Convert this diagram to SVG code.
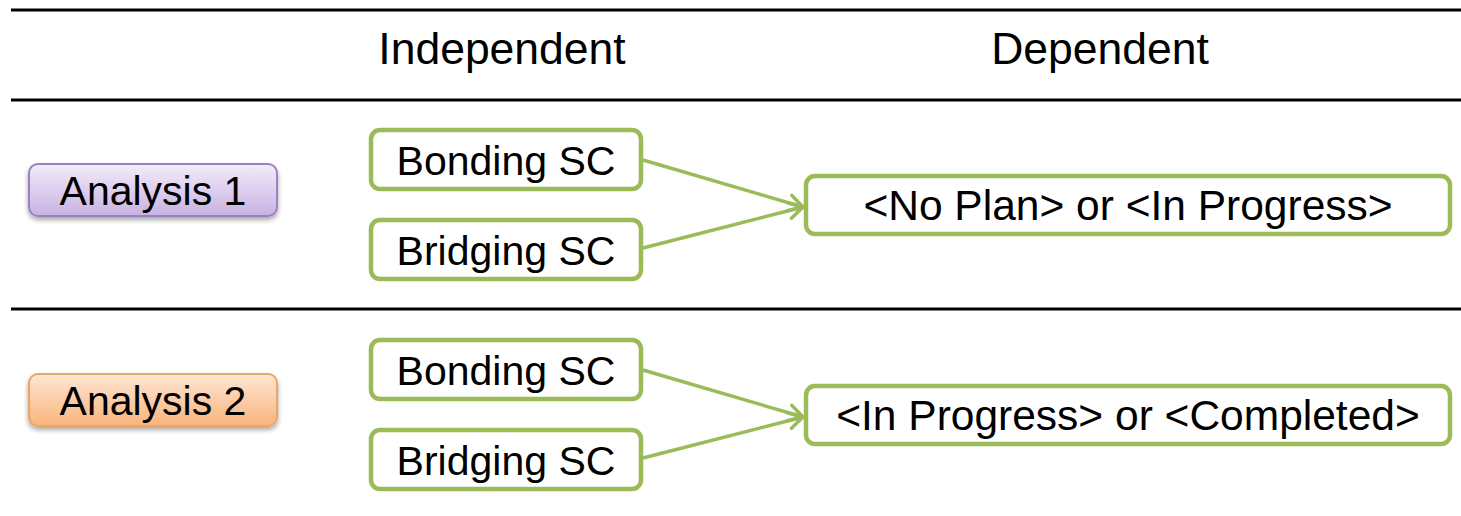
<svg xmlns="http://www.w3.org/2000/svg" width="1461" height="516" viewBox="0 0 1461 516">
<style>
text{font-family:"Liberation Sans",Arial,sans-serif;fill:#000;text-anchor:middle}
.hdr{font-size:44.5px}
.t{font-size:41px}
.td{font-size:42.5px}
.rule{stroke:#000;stroke-width:3}
.gbox{fill:#fff;stroke:#9bbb59;stroke-width:4.5}
.conn{stroke:#9bbb59;stroke-width:3.5;fill:none;marker-end:url(#arr)}
</style>
<defs>
<marker id="arr" viewBox="0 0 20 20" refX="18" refY="10" markerWidth="20" markerHeight="20" markerUnits="userSpaceOnUse" orient="auto">
<path d="M4,2 L18,10 L4,18" fill="none" stroke="#9bbb59" stroke-width="3.5" stroke-linecap="round" stroke-linejoin="round"/>
</marker>
<linearGradient id="purp" x1="0" y1="0" x2="0" y2="1">
<stop offset="0" stop-color="#f3ecfa"/><stop offset="1" stop-color="#c8b2e2"/>
</linearGradient>
<linearGradient id="orng" x1="0" y1="0" x2="0" y2="1">
<stop offset="0" stop-color="#fee6d4"/><stop offset="1" stop-color="#f9b47c"/>
</linearGradient>
<filter id="sh" x="-10%" y="-20%" width="120%" height="160%">
<feGaussianBlur in="SourceAlpha" stdDeviation="2.5"/>
<feOffset dy="3" result="b"/>
<feComponentTransfer><feFuncA type="linear" slope="0.35"/></feComponentTransfer>
<feMerge><feMergeNode/><feMergeNode in="SourceGraphic"/></feMerge>
</filter>
</defs>
<g id="rules">
<line class="rule" x1="11" y1="10" x2="1461" y2="10"/>
<line class="rule" x1="11" y1="100" x2="1461" y2="100"/>
<line class="rule" x1="11" y1="309" x2="1461" y2="309"/>
</g>
<g id="headers">
<text class="hdr" x="502" y="64">Independent</text>
<text class="hdr" x="1100" y="64">Dependent</text>
</g>
<g id="connectors">
<line class="conn" x1="643" y1="160" x2="803" y2="207"/>
<line class="conn" x1="643" y1="248" x2="803" y2="207"/>
<line class="conn" x1="643" y1="370" x2="803" y2="417"/>
<line class="conn" x1="643" y1="458" x2="803" y2="417"/>
</g>
<g id="analysis1">
<rect x="29" y="164" width="248" height="52" rx="9" fill="url(#purp)" stroke="#9a82bf" stroke-width="2" filter="url(#sh)"/>
<text class="t" x="153" y="205">Analysis 1</text>
</g>
<g id="analysis2">
<rect x="29" y="374" width="248" height="52" rx="9" fill="url(#orng)" stroke="#eaa569" stroke-width="2" filter="url(#sh)"/>
<text class="t" x="153" y="415">Analysis 2</text>
</g>
<g id="bonding1">
<rect class="gbox" x="371" y="130" width="270" height="59" rx="9"/>
<text class="t" x="506" y="175">Bonding SC</text>
</g>
<g id="bridging1">
<rect class="gbox" x="371" y="220" width="270" height="59" rx="9"/>
<text class="t" x="506" y="265">Bridging SC</text>
</g>
<g id="dependent1">
<rect class="gbox" x="806" y="176" width="644" height="58" rx="9"/>
<text class="td" x="1128" y="220">&lt;No Plan&gt; or &lt;In Progress&gt;</text>
</g>
<g id="bonding2">
<rect class="gbox" x="371" y="340" width="270" height="59" rx="9"/>
<text class="t" x="506" y="385">Bonding SC</text>
</g>
<g id="bridging2">
<rect class="gbox" x="371" y="430" width="270" height="59" rx="9"/>
<text class="t" x="506" y="475">Bridging SC</text>
</g>
<g id="dependent2">
<rect class="gbox" x="806" y="386" width="644" height="58" rx="9"/>
<text class="td" x="1128" y="430">&lt;In Progress&gt; or &lt;Completed&gt;</text>
</g>
</svg>
